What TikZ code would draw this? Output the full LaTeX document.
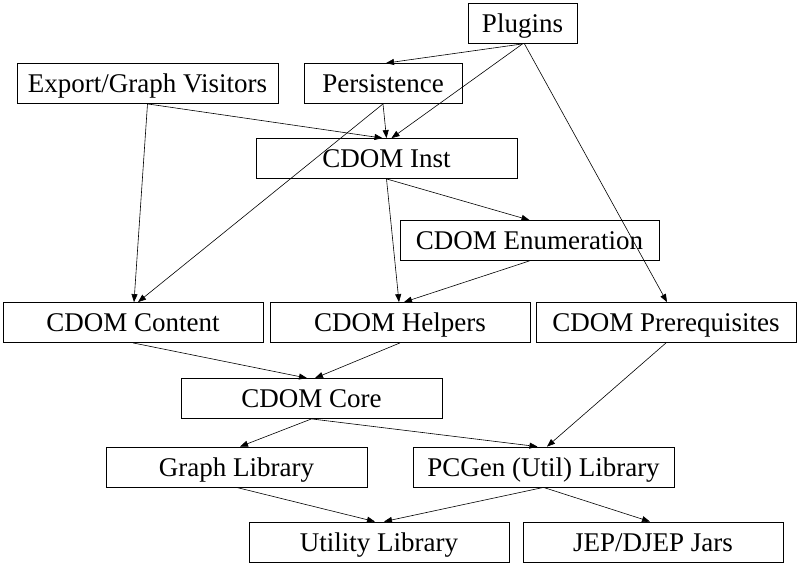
\documentclass[tikz,border=0pt]{standalone}
\usepackage{fontspec}
\setmainfont{Liberation Serif}
\usetikzlibrary{arrows.meta}
\begin{document}
\begin{tikzpicture}[x=1pt,y=-1pt,
  box/.style={draw, line width=0.8pt, inner sep=0pt, minimum height=40pt,
    font=\fontsize{27}{32}\selectfont, text height=20pt, text depth=2pt},
  wide/.style={box, minimum width=260pt},
  edge/.style={line width=0.6pt, -{Triangle[length=8pt,width=6pt]}}]
\useasboundingbox[fill=white] (0,0) rectangle (801,566);
\node[box, minimum width=109pt] (plugins) at (522.5,23.5) {Plugins};
\node[wide, minimum width=261pt] (export) at (147.5,83.5) {Export/Graph Visitors};
\node[box, minimum width=158pt] (persist) at (383,83.5) {Persistence};
\node[wide, minimum width=261pt] (inst) at (386.5,158.5) {CDOM Inst};
\node[wide, minimum width=259pt] (enum) at (529.5,240.5) {CDOM Enumeration};
\node[wide] (content) at (133,322.5) {CDOM Content};
\node[wide] (helpers) at (400,322.5) {CDOM Helpers};
\node[wide] (prereq) at (666,322.5) {CDOM Prerequisites};
\node[wide, minimum width=261pt] (core) at (311.5,398.5) {CDOM Core};
\node[wide, minimum width=261pt] (graph) at (236.5,467) {Graph Library};
\node[wide, minimum width=261pt] (pcgen) at (543.5,467) {PCGen (Util) Library};
\node[wide] (util) at (379,542) {Utility Library};
\node[wide] (jep) at (653,542) {JEP/DJEP Jars};

\draw[edge] (plugins.south) -- ([xshift=3pt]persist.north);
\draw[edge] (plugins.south) -- ([xshift=5pt]inst.north);
\draw[edge] ([xshift=2pt]plugins.south) -- ([xshift=1pt]prereq.north);
\draw[edge] (export.south) -- ([xshift=1pt]content.north);
\draw[edge] (export.south) -- ([xshift=-4pt]inst.north);
\draw[edge] (persist.south) -- (inst.north);
\draw[edge] (persist.south) -- ([xshift=5pt]content.north);
\draw[edge] (inst.south) -- (enum.north);
\draw[edge] (inst.south) -- ([xshift=-1pt]helpers.north);
\draw[edge] (enum.south) -- ([xshift=4pt]helpers.north);
\draw[edge] (content.south) -- ([xshift=-4.5pt]core.north);
\draw[edge] (helpers.south) -- ([xshift=3.5pt]core.north);
\draw[edge] (prereq.south) -- ([xshift=3.5pt]pcgen.north);
\draw[edge] (core.south) -- ([xshift=3.5pt]graph.north);
\draw[edge] (core.south) -- ([xshift=-6pt]pcgen.north);
\draw[edge] (graph.south) -- ([xshift=-4pt]util.north);
\draw[edge] (pcgen.south) -- ([xshift=5pt]util.north);
\draw[edge] (pcgen.south) -- ([xshift=-3pt]jep.north);
\end{tikzpicture}
\end{document}
